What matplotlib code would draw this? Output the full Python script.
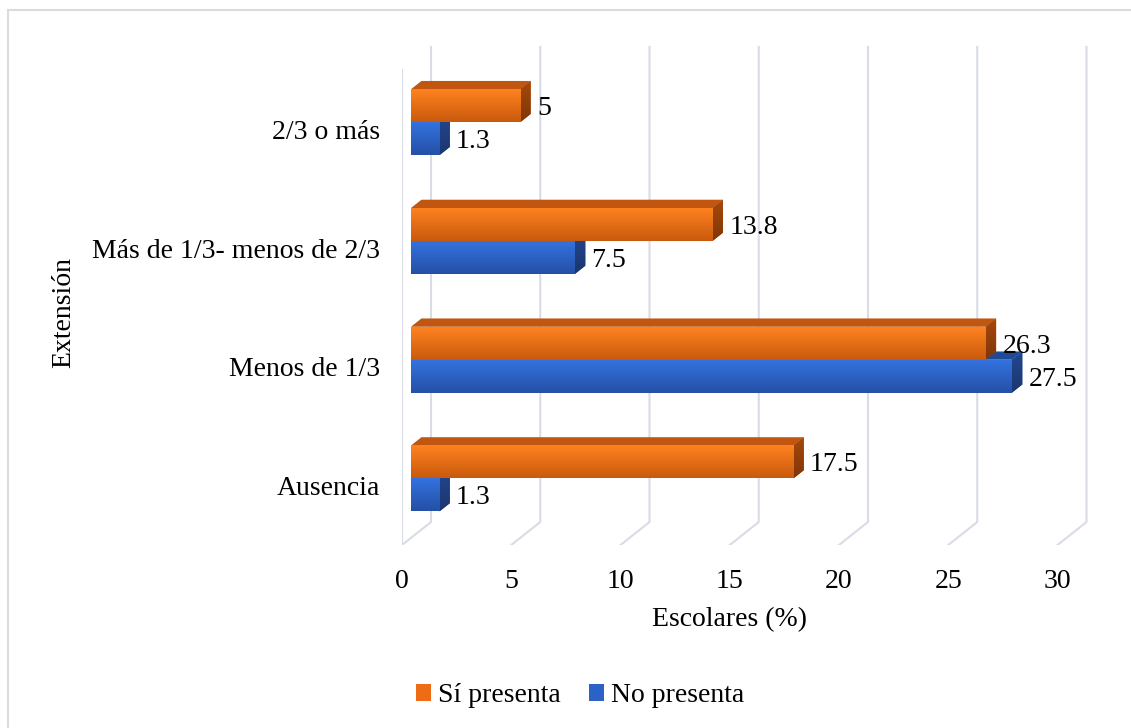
import numpy as np
import matplotlib
matplotlib.use("Agg")
import matplotlib.pyplot as plt
from matplotlib.patches import Polygon, Patch, Rectangle
from matplotlib.colors import LinearSegmentedColormap

plt.rcParams['font.family'] = ['Liberation Serif', 'DejaVu Serif']

categories = ["Ausencia", "Menos de 1/3", "Más de 1/3- menos de 2/3", "2/3 o más"]
si_presenta = [17.5, 26.3, 13.8, 5.0]
no_presenta = [1.3, 27.5, 7.5, 1.3]
value_labels_si = ["17.5", "26.3", "13.8", "5"]
value_labels_no = ["1.3", "27.5", "7.5", "1.3"]
x_ticks = [0, 5, 10, 15, 20, 25, 30]

# pseudo-3D layout (pixels per unit, depth vector of the floor)
W, H = 1131, 728
px_unit = 21.85
px_band = 118.75
depth_x = 29 / px_unit
depth_y = 23 / px_band
bar_front, bar_back = 0.31, 0.67
bar_h = 33 / px_band

fig = plt.figure(figsize=(W / 100, H / 100), dpi=100)
ax_l, ax_b, ax_r, ax_t = 402, 545, 1100, 40
ax = fig.add_axes([ax_l / W, (H - ax_b) / H, (ax_r - ax_l) / W, (ax_b - ax_t) / H])
xmax = (ax_r - ax_l) / px_unit
ymax = (ax_b - ax_t) / px_band

# chart border
fig.patches.append(Rectangle((8 / W, -0.1), 1.2, 1.1 - 10 / H, transform=fig.transFigure,
                             fill=False, edgecolor="#d9dbe0", lw=1.5))

grid_c = "#d9dce6"
n = len(categories)
for v in x_ticks:
    ax.plot([v, v + depth_x, v + depth_x], [0, depth_y, n + depth_y], color=grid_c, lw=1.5, zorder=0)
ax.plot([0, 0], [0, n], color=grid_c, lw=1.5, zorder=0)

orange = dict(front=["#ff8220", "#c95a0d"], top="#c0560f", side=["#a8490c", "#7f3607"])
blue = dict(front=["#3472de", "#2450a6"], top="#1f4a98", side=["#24478e", "#1a366f"])


def draw_bar(v, y0, style, z):
    fx = bar_front * depth_x
    fy = bar_front * depth_y
    dx = (bar_back - bar_front) * depth_x
    dy = (bar_back - bar_front) * depth_y
    x0, x1 = fx, fx + v
    yb, yt = y0 + fy, y0 + fy + bar_h
    # top face
    ax.add_patch(Polygon([[x0, yt], [x1, yt], [x1 + dx, yt + dy], [x0 + dx, yt + dy]],
                         closed=True, facecolor=style["top"], edgecolor="none", zorder=z))
    # side face
    side = ax.add_patch(Polygon([[x1, yb], [x1 + dx, yb + dy], [x1 + dx, yt + dy], [x1, yt]],
                                closed=True, facecolor=style["side"][0], edgecolor="none", zorder=z))
    cm_side = LinearSegmentedColormap.from_list("s", style["side"])
    im = ax.imshow(np.linspace(0, 1, 50).reshape(-1, 1), cmap=cm_side, aspect="auto",
                   extent=[x1, x1 + dx, yb, yt + dy], zorder=z, interpolation="bilinear")
    im.set_clip_path(side)
    # front face, light at the top and darker below
    rect = ax.barh(yb, v, height=bar_h, left=x0, align="edge", color=style["front"][0],
                   edgecolor="none", zorder=z)[0]
    cm = LinearSegmentedColormap.from_list("f", style["front"])
    im = ax.imshow(np.linspace(0, 1, 50).reshape(-1, 1), cmap=cm, aspect="auto",
                   extent=[x0, x1, yb, yt], zorder=z + 0.1, interpolation="bilinear")
    im.set_clip_path(rect)
    return x1, (yb + yt) / 2


z = 2
for i in range(n):
    center = i + 0.5
    xe, yc = draw_bar(no_presenta[i], center - bar_h, blue, z)
    ax.annotate(value_labels_no[i], (xe, yc), xytext=(12, -2), textcoords="offset points",
                ha="left", va="center", fontsize=20, zorder=20)
    xe, yc = draw_bar(si_presenta[i], center, orange, z + 1)
    ax.annotate(value_labels_si[i], (xe, yc), xytext=(12, -2), textcoords="offset points",
                ha="left", va="center", fontsize=20, zorder=20)
    z += 2

ax.set_xlim(0, xmax)
ax.set_ylim(0, ymax)
ax.set_xticks(x_ticks)
ax.set_xticklabels([str(t) for t in x_ticks], fontsize=20)
ax.set_yticks([i + 0.5 for i in range(n)])
ax.set_yticklabels(categories, fontsize=20)
ax.tick_params(axis="x", length=0, pad=17)
ax.tick_params(axis="y", length=0, pad=16)
for s in ax.spines.values():
    s.set_visible(False)
ax.patch.set_alpha(0)

fig.text(730 / W, 1 - 620 / H, "Escolares (%)", ha="center", va="center", fontsize=20)
fig.text(64 / W, 1 - 312 / H, "Extensión", ha="center", va="center", fontsize=20, rotation=90)

handles = [Patch(facecolor="#ee6c15", label="Sí presenta"),
           Patch(facecolor="#2c62c6", label="No presenta")]
fig.legend(handles=handles, loc="center", bbox_to_anchor=(580 / W, 1 - 696 / H), ncol=2,
           frameon=False, fontsize=20, handlelength=0.55, handleheight=0.55,
           handletextpad=0.25, columnspacing=1.0)

fig.savefig("out.png", dpi=100)
